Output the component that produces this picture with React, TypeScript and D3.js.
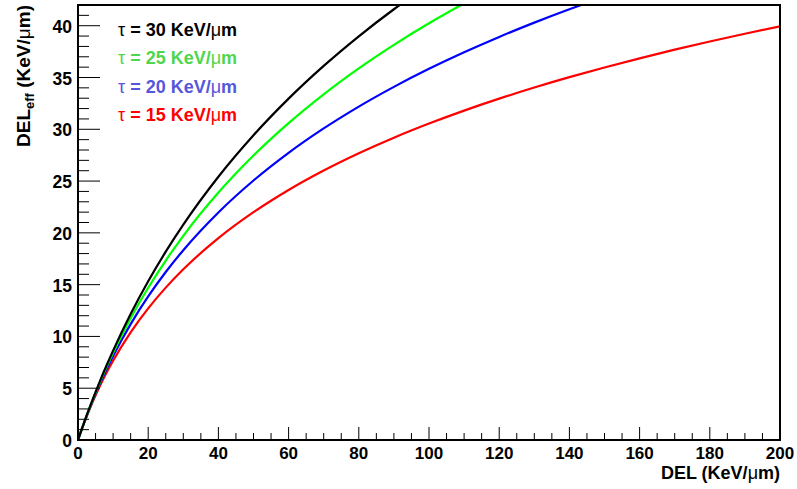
import React from "react";
import * as d3 from "d3";

const delValues = [0, 1, 2, 4, 6, 8, 10, 15, 20, 25, 30, 40, 50, 60, 70, 80, 90, 100, 110, 120, 130, 140, 150, 160, 170, 180, 190, 200];

const tau15 = [0, 0.968, 1.877, 3.546, 5.047, 6.412, 7.662, 10.397, 12.709, 14.712, 16.479, 19.489, 21.995, 24.142, 26.019, 27.687, 29.189, 30.553, 31.804, 32.958, 34.03, 35.031, 35.968, 36.851, 37.685, 38.474, 39.224, 39.939];
const tau20 = [0, 0.976, 1.906, 3.646, 5.247, 6.729, 8.109, 11.192, 13.863, 16.219, 18.326, 21.972, 25.055, 27.726, 30.082, 32.189, 34.095, 35.835, 37.436, 38.918, 40.298, 41.589, 42.801];
const tau25 = [0, 0.98, 1.924, 3.711, 5.378, 6.941, 8.412, 11.75, 14.695, 17.329, 19.712, 23.888, 27.465, 30.594, 33.375, 35.877, 38.151, 40.236, 42.16];
const tau30 = [0, 0.984, 1.936, 3.755, 5.47, 7.092, 8.63, 12.164, 15.325, 18.184, 20.794, 25.419, 29.425, 32.958, 36.119, 38.978, 41.589, 43.99];

const seriesNames = ["τ = 30 KeV/μm", "τ = 25 KeV/μm", "τ = 20 KeV/μm", "τ = 15 KeV/μm"];
const xTickLabels = [0, 20, 40, 60, 80, 100, 120, 140, 160, 180, 200];
const yTickLabels = [0, 5, 10, 15, 20, 25, 30, 35, 40];

const series = [
  { name: seriesNames[3], values: tau15, line: "#ff0000", text: "#ff0000" },
  { name: seriesNames[2], values: tau20, line: "#0000ff", text: "#5656dc" },
  { name: seriesNames[1], values: tau25, line: "#00ff00", text: "#4fd64f" },
  { name: seriesNames[0], values: tau30, line: "#000000", text: "#000000" },
];

const W = 797, H = 489;
const L = 78, R = 780, T = 5, B = 440;
const FONT = "'Liberation Sans', Arial, Helvetica, sans-serif";

export default function App() {
  const x = d3.scaleLinear().domain([0, 200]).range([L, R]);
  const y = d3.scaleLinear().domain([0, 42]).range([B, T]);
  const line = d3
    .line<[number, number]>()
    .x((d) => x(d[0]))
    .y((d) => y(d[1]))
    .curve(d3.curveMonotoneX);

  const xMinor = d3.range(0, 201, 5);
  const yMinor = d3.range(0, 43, 1);

  const legendOrder = [3, 2, 1, 0];
  const legendY = [36, 64, 93, 121];

  return (
    <svg width={W} height={H} style={{ position: "absolute", left: 0, top: 0, background: "#fff" }} fontFamily={FONT}>
      <defs>
        <clipPath id="plotclip">
          <rect x={L} y={T} width={R - L} height={B - T} />
        </clipPath>
      </defs>
      <rect x={0} y={0} width={W} height={H} fill="#fff" />
      <g clipPath="url(#plotclip)">
        {series.map((s) => (
          <path
            key={s.name}
            d={line(s.values.map((v, i) => [delValues[i], v]) as [number, number][]) || ""}
            fill="none"
            stroke={s.line}
            strokeWidth={2.2}
          />
        ))}
      </g>
      <rect x={L} y={T} width={R - L} height={B - T} fill="none" stroke="#000" strokeWidth={2} />
      {xMinor.map((v) => (
        <line key={"xt" + v} x1={x(v)} x2={x(v)} y1={B} y2={B - (v % 20 === 0 ? 13 : 7)} stroke="#000" strokeWidth={1} />
      ))}
      {yMinor.map((v) => (
        <line key={"yt" + v} x1={L} x2={L + (v % 5 === 0 ? 22 : 11)} y1={y(v)} y2={y(v)} stroke="#000" strokeWidth={1} />
      ))}
      {xTickLabels.map((v) => (
        <text key={"xl" + v} x={x(v)} y={459} textAnchor="middle" fontSize={17} fontWeight="bold">
          {v}
        </text>
      ))}
      {yTickLabels.map((v) => (
        <text key={"yl" + v} x={72} y={y(v) + 7} textAnchor="end" fontSize={17.5} fontWeight="bold">
          {v}
        </text>
      ))}
      <text x={R} y={479} textAnchor="end" fontSize={18} fontWeight="bold">
        DEL (KeV/<tspan fontWeight="normal">μ</tspan>m)
      </text>
      <text transform={`translate(30,${T}) rotate(-90)`} textAnchor="end" fontSize={19} fontWeight="bold">
        DEL<tspan fontSize={13} dy={4}>eff</tspan>
        <tspan dy={-4}> (KeV/</tspan>
        <tspan fontWeight="normal">μ</tspan>
        <tspan>m)</tspan>
      </text>
      {legendOrder.map((si, k) => (
        <text key={"lg" + si} x={118} y={legendY[k]} fontSize={18} fontWeight="bold" fill={series[si].text}>
          <tspan fontWeight="normal">τ</tspan>
          {series[si].name.slice(1, series[si].name.indexOf("μ"))}
          <tspan fontWeight="normal">μ</tspan>
          m
        </text>
      ))}
    </svg>
  );
}
